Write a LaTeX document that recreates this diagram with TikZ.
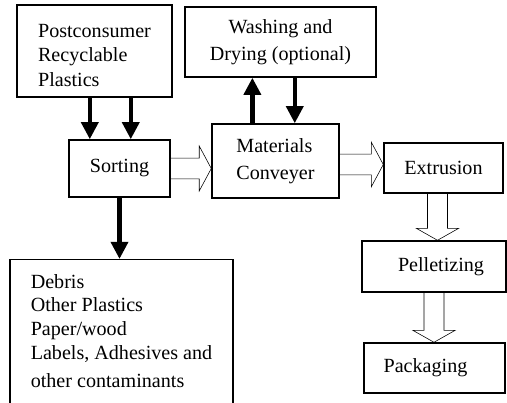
\documentclass[tikz,border=0pt]{standalone}
\usepackage{fontspec}
\setmainfont{Liberation Serif}
\usetikzlibrary{arrows.meta,positioning,calc}
\tikzset{
  stage/.style={draw=black,line width=1pt,align=center,inner sep=0pt,
                font=\fontsize{14.3}{17}\selectfont},
  liststage/.style={stage,align=left},
  widestage/.style={font=\fontsize{14.3}{19.5}\selectfont},
  flowarr/.style={-{Triangle[length=0.43cm,width=0.42cm]},line width=3.2pt},
  hblock/.style={line width=1pt,to path={
      ($(\tikztostart)+(0,0.26cm)$) -- ($(\tikztotarget)+(-0.3cm,0.26cm)$)
      -- ($(\tikztotarget)+(-0.3cm,0.56cm)$) -- (\tikztotarget)
      -- ($(\tikztotarget)+(-0.3cm,-0.56cm)$) -- ($(\tikztotarget)+(-0.3cm,-0.26cm)$)
      -- ($(\tikztostart)+(0,-0.26cm)$)}},
  vblock/.style={line width=1pt,to path={
      ($(\tikztostart)+(-0.25cm,0)$) -- ($(\tikztotarget)+(-0.25cm,0.3cm)$)
      -- ($(\tikztotarget)+(-0.53cm,0.3cm)$) -- (\tikztotarget)
      -- ($(\tikztotarget)+(0.53cm,0.3cm)$) -- ($(\tikztotarget)+(0.25cm,0.3cm)$)
      -- ($(\tikztostart)+(0.25cm,0)$)}}
}

\begin{document}
\begin{tikzpicture}[x=0.025cm,y=-0.025cm]
  \useasboundingbox (0,0) rectangle (507,402);
  \clip (0,0) rectangle (507,402);
  % boxes
  \node[liststage,minimum width=3.875cm,minimum height=2.3cm] (post) at (94.5,51)
    {\\[-0.05cm]Postconsumer\\Recyclable\\[0.03cm]Plastics};
  \node[stage,minimum width=2.525cm,minimum height=1.425cm] (sort) at (119.5,168.5) {Sorting};
  \node[stage,widestage,minimum width=4.775cm,minimum height=1.75cm] (wash) at (280.5,42)
    {Washing and\\Drying (optional)};
  \node[liststage,widestage,minimum width=3.175cm,minimum height=1.85cm] (conv) at (275.5,161)
    {Materials\\Conveyer};
  \node[stage,minimum width=2.975cm,minimum height=1.25cm] (extr) at (443.5,168) {Extrusion};
  \node[stage,minimum width=3.6cm,minimum height=1.275cm] (pell) at (434,266.5)
    {\hspace*{0.35cm}Pelletizing};
  \node[stage,minimum width=3.525cm,minimum height=1.25cm] (pack) at (434.5,368)
    {Packaging\hspace*{0.45cm}};
  \node[liststage,anchor=north,minimum width=5.575cm,inner ysep=0.36cm] (debris) at (121.5,259)
    {Debris\\Other Plastics\\Paper/wood\\Labels, Adhesives and\\[0.1cm]
     other contaminants\rule[-1cm]{0pt}{0pt}};
  % solid arrows
  \coordinate (in1) at ($(sort.north west)!0.21!(sort.north east)$);
  \coordinate (in2) at ($(sort.north west)!0.61!(sort.north east)$);
  \draw[flowarr] (post.south -| in1) -- (in1);
  \draw[flowarr] (post.south -| in2) -- (in2);
  \draw[flowarr] (sort.south) -- (sort.south |- debris.north);
  \coordinate (up1) at ($(conv.north west)!0.32!(conv.north east)$);
  \coordinate (dn1) at ($(conv.north west)!0.65!(conv.north east)$);
  \draw[flowarr] (up1) -- (up1 |- wash.south);
  \draw[flowarr] (dn1 |- wash.south) -- (dn1);
  % hollow arrows
  \draw (sort.east) to[hblock] (sort.east -| conv.west);
  \coordinate (cx) at ($(conv.east)+(0,3.5)$);
  \draw (cx) to[hblock] (cx -| extr.west);
  \coordinate (ex) at ($(extr.south)+(-6,0)$);
  \draw (ex) to[vblock] (ex |- pell.north);
  \draw (pell.south) to[vblock] (pell.south |- pack.north);
\end{tikzpicture}
\end{document}
